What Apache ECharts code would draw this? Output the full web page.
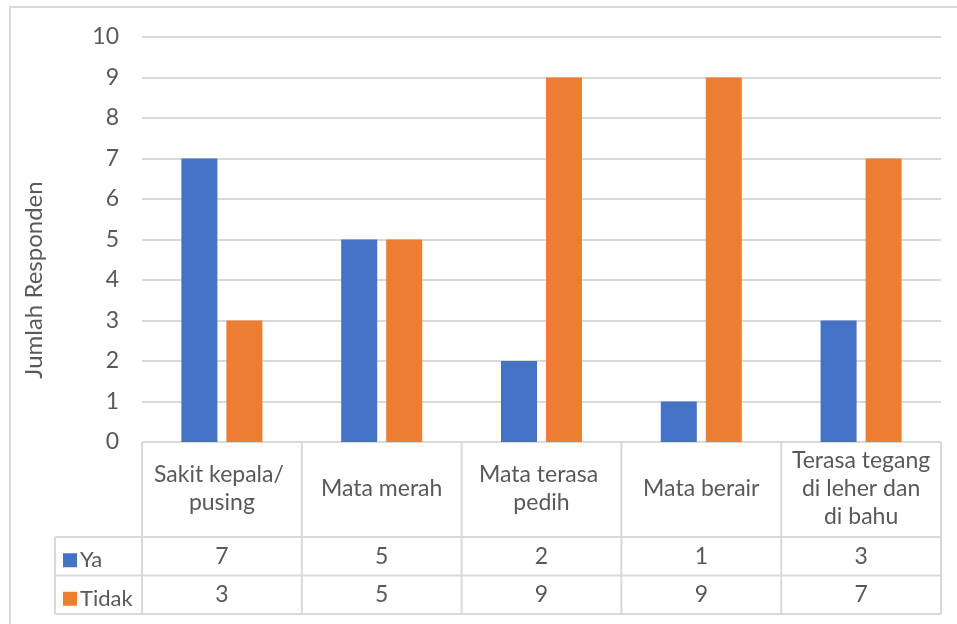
<!DOCTYPE html>
<html>
<head>
<meta charset="utf-8">
<script src="https://cdn.jsdelivr.net/npm/echarts@6/dist/echarts.min.js"></script>
<style>
  html, body { margin: 0; padding: 0; background: #fff; }
  #chart { width: 957px; height: 624px; }
</style>
</head>
<body>
<div id="chart"></div>
<script>
// Keluhan responden: jumlah yang menjawab Ya / Tidak per gejala
const categories = ['Sakit kepala/ pusing', 'Mata merah', 'Mata terasa pedih', 'Mata berair', 'Terasa tegang di leher dan di bahu'];
const seriesNames = ['Ya', 'Tidak'];
const yaValues = [7, 5, 2, 1, 3];
const tidakValues = [3, 5, 9, 9, 7];
const yTicks = [0, 1, 2, 3, 4, 5, 6, 7, 8, 9, 10];
const yTitle = 'Jumlah Responden';

const FONT = 'Lato, "Noto Sans", sans-serif';
const TEXT = '#595959';
const LINE = '#d9d9d9';
const COLORS = ['#4472C4', '#ED7D31'];
const FS = 23;

// tinggi baris tabel dan posisi kunci legenda di kolom kiri tabel
const HEADER_H = 95;
const ROW_H = 38.5;

const chart = echarts.init(document.getElementById('chart'), null, { renderer: 'canvas' });

const GRID = { left: 142, right: 16, top: 37, bottom: 182 };
const AXIS_Y0 = 624 - GRID.bottom;

// satu legenda per baris tabel
const legends = seriesNames.map((name, r) => ({
  data: [name],
  left: 63,
  top: AXIS_Y0 + HEADER_H + ROW_H * r + ROW_H / 2 - 7,
  padding: 0,
  icon: 'rect',
  itemWidth: 14,
  itemHeight: 14,
  selectedMode: false,
  textStyle: { fontFamily: FONT, color: TEXT, fontSize: 22, lineHeight: 14, padding: [-6, 0, 0, -2] }
}));

chart.setOption({
  animation: false,
  color: COLORS,
  textStyle: { fontFamily: FONT, color: TEXT },
  grid: GRID,
  legend: legends,
  xAxis: {
    type: 'category',
    data: categories,
    axisLine: { show: false },
    axisTick: { show: false },
    axisLabel: {
      interval: 0,
      margin: 47,
      verticalAlign: 'middle',
      width: 146,
      overflow: 'break',
      lineHeight: 28,
      fontSize: FS,
      fontFamily: FONT,
      color: TEXT
    }
  },
  yAxis: {
    type: 'value',
    min: yTicks[0],
    max: yTicks[yTicks.length - 1],
    interval: 1,
    axisLine: { show: false },
    axisTick: { show: false },
    axisLabel: { margin: 23, fontSize: FS, fontFamily: FONT, color: TEXT },
    splitLine: { lineStyle: { color: LINE, width: 2 } }
  },
  series: [
    { name: seriesNames[0], type: 'bar', data: yaValues, barWidth: 36, barGap: '25%' },
    { name: seriesNames[1], type: 'bar', data: tidakValues, barWidth: 36, barGap: '25%' }
  ]
});

// Tabel data di bawah sumbu kategori, posisi kolom mengikuti sumbu x
function drawTable() {
  const c0 = chart.convertToPixel({ xAxisIndex: 0 }, categories[0]);
  const c1 = chart.convertToPixel({ xAxisIndex: 0 }, categories[1]);
  const step = c1 - c0;
  const y0 = chart.convertToPixel({ yAxisIndex: 0 }, 0);
  const headerBottom = y0 + HEADER_H;
  const tableBottom = headerBottom + ROW_H * 2;
  const labelLeft = 55;
  const edges = categories.map(c => chart.convertToPixel({ xAxisIndex: 0 }, c) - step / 2);
  edges.push(edges[edges.length - 1] + step);
  const right = edges[edges.length - 1];
  const lineStyle = { stroke: LINE, lineWidth: 2 };
  const els = [];

  // bingkai luar area grafik
  els.push({ type: 'polyline', shape: { points: [[10, 624], [10, 7], [957, 7]] }, style: { stroke: LINE, lineWidth: 2, fill: null }, silent: true });

  // judul sumbu y
  els.push({
    type: 'text', x: 34, y: 280, rotation: Math.PI / 2, silent: true,
    style: { text: yTitle, fontFamily: FONT, fontSize: 24, fill: TEXT, align: 'center', verticalAlign: 'middle' }
  });

  // garis horizontal tabel
  [headerBottom, headerBottom + ROW_H, tableBottom].forEach(y => {
    els.push({ type: 'line', shape: { x1: labelLeft, y1: y, x2: right, y2: y }, style: lineStyle, silent: true });
  });
  els.push({ type: 'line', shape: { x1: labelLeft, y1: headerBottom, x2: labelLeft, y2: tableBottom }, style: lineStyle, silent: true });
  // garis vertikal tabel
  edges.forEach(x => {
    els.push({ type: 'line', shape: { x1: x, y1: y0, x2: x, y2: tableBottom }, style: lineStyle, silent: true });
  });

  // nilai per baris
  [yaValues, tidakValues].forEach((vals, r) => {
    const cy = headerBottom + ROW_H * r + ROW_H / 2;
    vals.forEach((v, i) => {
      const cx = chart.convertToPixel({ xAxisIndex: 0 }, categories[i]);
      els.push({
        type: 'text', x: cx, y: cy, silent: true,
        style: { text: String(v), fontFamily: FONT, fontSize: FS, fill: TEXT, align: 'center', verticalAlign: 'middle' }
      });
    });
  });

  chart.setOption({ graphic: { elements: els } });
}
drawTable();
</script>
</body>
</html>
